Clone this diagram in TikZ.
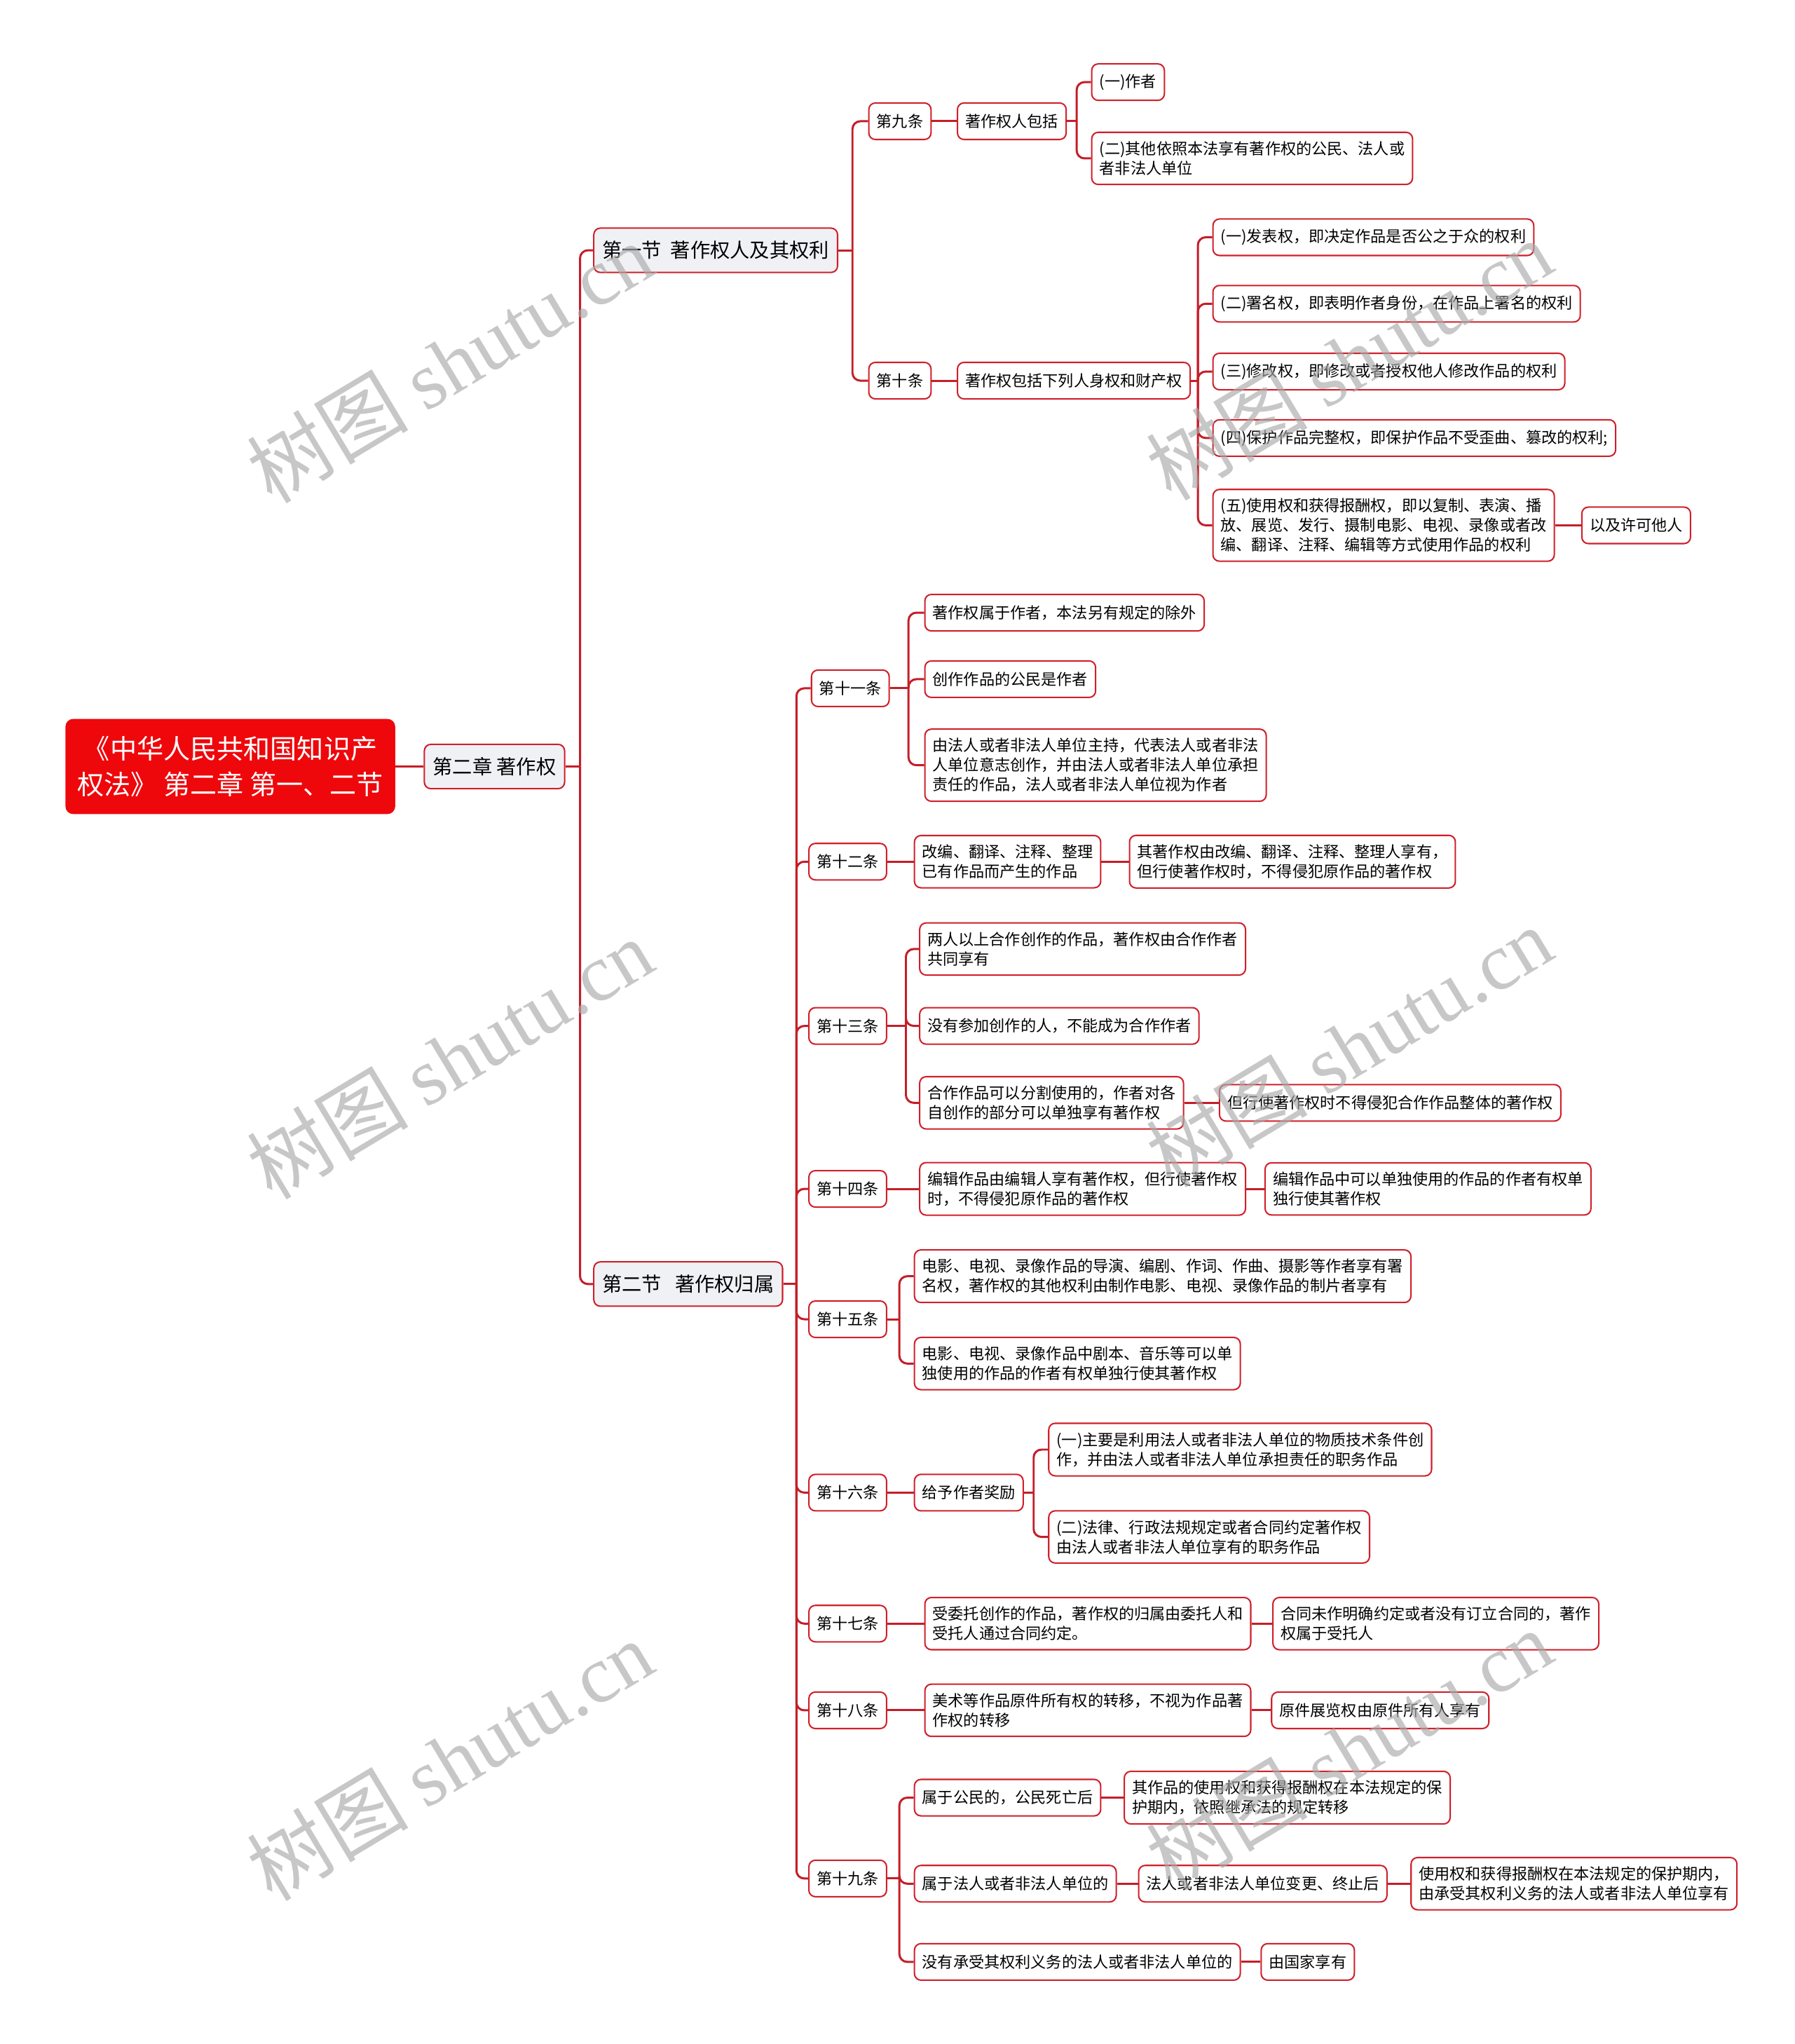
\documentclass[tikz,border=0pt]{standalone}
\usepackage{fontspec}
\setmainfont{Noto Sans CJK SC}
\newfontfamily\wmfont{Liberation Serif}
\usetikzlibrary{calc}
\definecolor{bordred}{RGB}{208,32,42}
\definecolor{linered}{RGB}{196,30,40}
\definecolor{rootred}{RGB}{238,8,12}
\definecolor{secfill}{RGB}{239,241,245}
\definecolor{wmgray}{RGB}{170,170,170}
\tikzset{
 box/.style={draw=bordred, line width=1.1pt, rounded corners=5pt, fill=white, anchor=west,
   inner xsep=6pt, inner ysep=7pt, minimum height=28pt, align=left,
   font=\fontsize{11.9}{15}\selectfont},
 secbox/.style={box, fill=secfill, font=\fontsize{15.2}{20}\selectfont, minimum height=34pt, inner xsep=6.5pt},
 rootbox/.style={draw=none, fill=rootred, rounded corners=6pt, text=white, align=center,
   minimum width=253pt, minimum height=73pt, anchor=west, font=\fontsize{20.5}{27}\selectfont},
 conn/.style={draw=linered, line width=1.6pt, rounded corners=6pt},
 wm/.style={text=wmgray, opacity=0.65, rotate=31, font=\fontsize{62}{62}\selectfont},
}
% parent, absolute trunk x, children
\newcommand\fork[3]{\draw[conn] (#1.east) -- (#1.east -| #2,0) coordinate (fk);
  \foreach \c in {#3}{\draw[conn] (fk) |- (\c.west);}}
\newcommand\link[2]{\draw[conn] (#1.east) -- (#2.west);}
\begin{document}
\begin{tikzpicture}[x=1pt,y=-1pt]
\fill[white] (0,0) rectangle (1377,1568);
\useasboundingbox (0,0) rectangle (1377,1568);

\node[rootbox] (root) at (50,588) {《中华人民共和国知识产\\权法》 第二章 第一、二节};
\node[secbox] (ch2) at (325,588) {第二章 著作权};
\node[secbox] (s1) at (455,192) {第一节\ \ 著作权人及其权利};
\node[secbox] (s2) at (455,985) {第二节\ \ \ 著作权归属};

% section 1
\node[box] (a9) at (666,93) {第九条};
\node[box] (a9c) at (734,93) {著作权人包括};
\node[box] (a9a) at (837,63) {(一)作者};
\node[box] (a9b) at (837,121.5) {(二)其他依照本法享有著作权的公民、法人或\\者非法人单位};
\node[box] (a10) at (666,292) {第十条};
\node[box] (a10c) at (734,292) {著作权包括下列人身权和财产权};
\node[box] (r1) at (930,182) {(一)发表权，即决定作品是否公之于众的权利};
\node[box] (r2) at (930,233) {(二)署名权，即表明作者身份，在作品上署名的权利};
\node[box] (r3) at (930,285) {(三)修改权，即修改或者授权他人修改作品的权利};
\node[box] (r4) at (930,336) {(四)保护作品完整权，即保护作品不受歪曲、篡改的权利;};
\node[box] (r5) at (930,403) {(五)使用权和获得报酬权，即以复制、表演、播\\放、展览、发行、摄制电影、电视、录像或者改\\编、翻译、注释、编辑等方式使用作品的权利};
\node[box] (r5x) at (1213,403) {以及许可他人};

% section 2
\node[box] (a11) at (622,528) {第十一条};
\node[box] (a11a) at (709,470) {著作权属于作者，本法另有规定的除外};
\node[box] (a11b) at (709,521) {创作作品的公民是作者};
\node[box] (a11c) at (709,587) {由法人或者非法人单位主持，代表法人或者非法\\人单位意志创作，并由法人或者非法人单位承担\\责任的作品，法人或者非法人单位视为作者};

\node[box] (a12) at (620,661) {第十二条};
\node[box] (a12a) at (701,661) {改编、翻译、注释、整理\\已有作品而产生的作品};
\node[box] (a12b) at (866,661) {其著作权由改编、翻译、注释、整理人享有，\\但行使著作权时，不得侵犯原作品的著作权};

\node[box] (a13) at (620,787) {第十三条};
\node[box] (a13a) at (705,728) {两人以上合作创作的作品，著作权由合作作者\\共同享有};
\node[box] (a13b) at (705,787) {没有参加创作的人，不能成为合作作者};
\node[box] (a13c) at (705,846) {合作作品可以分割使用的，作者对各\\自创作的部分可以单独享有著作权};
\node[box] (a13d) at (935,846) {但行使著作权时不得侵犯合作作品整体的著作权};

\node[box] (a14) at (620,912) {第十四条};
\node[box] (a14a) at (705,912) {编辑作品由编辑人享有著作权，但行使著作权\\时，不得侵犯原作品的著作权};
\node[box] (a14b) at (970,912) {编辑作品中可以单独使用的作品的作者有权单\\独行使其著作权};

\node[box] (a15) at (620,1012) {第十五条};
\node[box] (a15a) at (701,979) {电影、电视、录像作品的导演、编剧、作词、作曲、摄影等作者享有署\\名权，著作权的其他权利由制作电影、电视、录像作品的制片者享有};
\node[box] (a15b) at (701,1046) {电影、电视、录像作品中剧本、音乐等可以单\\独使用的作品的作者有权单独行使其著作权};

\node[box] (a16) at (620,1145) {第十六条};
\node[box] (a16a) at (701,1145) {给予作者奖励};
\node[box] (a16b) at (804,1112) {(一)主要是利用法人或者非法人单位的物质技术条件创\\作，并由法人或者非法人单位承担责任的职务作品};
\node[box] (a16c) at (804,1179) {(二)法律、行政法规规定或者合同约定著作权\\由法人或者非法人单位享有的职务作品};

\node[box] (a17) at (620,1245.5) {第十七条};
\node[box] (a17a) at (709,1245.5) {受委托创作的作品，著作权的归属由委托人和\\受托人通过合同约定。};
\node[box] (a17b) at (976,1245.5) {合同未作明确约定或者没有订立合同的，著作\\权属于受托人};

\node[box] (a18) at (620,1312) {第十八条};
\node[box] (a18a) at (709,1312) {美术等作品原件所有权的转移，不视为作品著\\作权的转移};
\node[box] (a18b) at (975,1312) {原件展览权由原件所有人享有};

\node[box] (a19) at (620,1441) {第十九条};
\node[box] (a19a) at (701,1379) {属于公民的，公民死亡后};
\node[box] (a19a2) at (862,1379) {其作品的使用权和获得报酬权在本法规定的保\\护期内，依照继承法的规定转移};
\node[box] (a19b) at (701,1445) {属于法人或者非法人单位的};
\node[box] (a19b2) at (873,1445) {法人或者非法人单位变更、终止后};
\node[box] (a19b3) at (1082,1445) {使用权和获得报酬权在本法规定的保护期内，\\由承受其权利义务的法人或者非法人单位享有};
\node[box] (a19c) at (701,1505) {没有承受其权利义务的法人或者非法人单位的};
\node[box] (a19c2) at (967,1505) {由国家享有};

% connectors
\link{root}{ch2}
\fork{ch2}{445}{s1,s2}
\fork{s1}{654}{a9,a10}
\link{a9}{a9c}
\fork{a9c}{826}{a9a,a9b}
\link{a10}{a10c}
\fork{a10c}{919}{r1,r2,r3,r4,r5}
\link{r5}{r5x}
\fork{s2}{611}{a11,a12,a13,a14,a15,a16,a17,a18,a19}
\fork{a11}{697}{a11a,a11b,a11c}
\link{a12}{a12a}
\link{a12a}{a12b}
\fork{a13}{695}{a13a,a13b,a13c}
\link{a13c}{a13d}
\link{a14}{a14a}
\link{a14a}{a14b}
\fork{a15}{690}{a15a,a15b}
\link{a16}{a16a}
\fork{a16a}{793}{a16b,a16c}
\link{a17}{a17a}
\link{a17a}{a17b}
\link{a18}{a18a}
\link{a18a}{a18b}
\fork{a19}{690}{a19a,a19b,a19c}
\link{a19a}{a19a2}
\link{a19b}{a19b2}
\link{a19b2}{a19b3}
\link{a19c}{a19c2}

% watermarks
\foreach \wx/\wy [count=\i] in {345/278,345/812,345/1350,1035/276,1035/803,1035/1342}
  \node[wm] (wm\i) at (\wx,\wy) {树图 {\wmfont shutu.cn}};
\end{tikzpicture}
\end{document}
